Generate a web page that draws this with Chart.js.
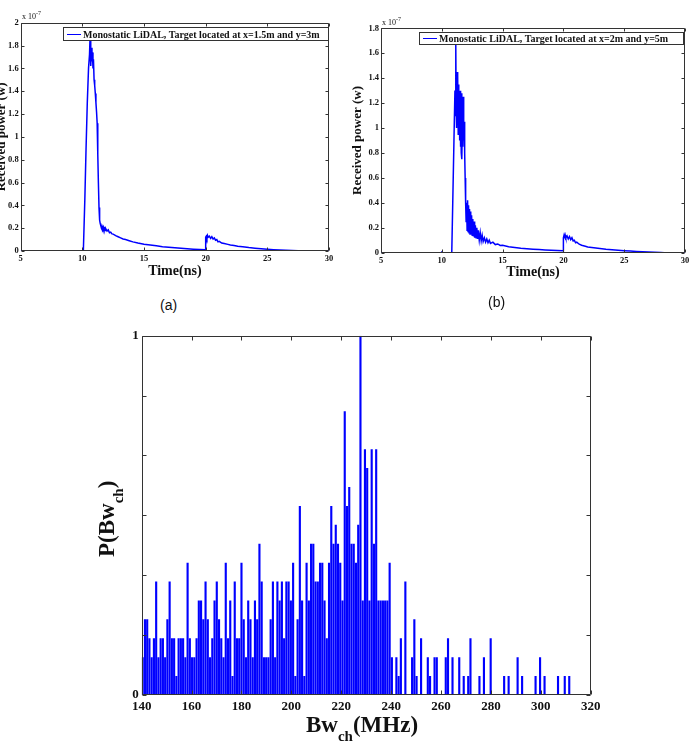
<!DOCTYPE html>
<html><head><meta charset="utf-8">
<script src="https://cdn.jsdelivr.net/npm/chart.js@4.4.1/dist/chart.umd.min.js"></script>
<style>
html,body{margin:0;padding:0;background:#fff;}
body{width:689px;height:756px;position:relative;overflow:hidden;font-family:"Liberation Serif",serif;color:#111;}
canvas{position:absolute;}
.t{position:absolute;white-space:nowrap;}
.leg{position:absolute;border:1px solid #333;background:#fff;box-sizing:border-box;}
.leg .ln{position:absolute;height:1px;background:#0000ff;}
.leg .tx{position:absolute;font:bold 10px "Liberation Serif";line-height:10px;white-space:nowrap;}
</style></head><body>
<canvas id="ca" width="360" height="280" style="left:-14px;top:0"></canvas>
<canvas id="cb" width="349" height="285" style="left:340px;top:0"></canvas>
<canvas id="ch" width="520" height="436" style="left:90px;top:320px"></canvas>

<div class="t" style="left:22px;top:12px;font:8px 'Liberation Serif'">x 10<span style="font-size:6px;position:relative;top:-4px">-7</span></div>
<div class="t" style="left:382px;top:18px;font:8px 'Liberation Serif'">x 10<span style="font-size:6px;position:relative;top:-4px">-7</span></div>

<div class="leg" style="left:63px;top:27px;width:266px;height:14px">
  <div class="ln" style="left:3px;top:6px;width:14px"></div>
  <div class="tx" style="left:19px;top:1.5px">Monostatic LiDAL, Target located at x=1.5m and y=3m</div>
</div>
<div class="leg" style="left:419px;top:32px;width:265px;height:13px">
  <div class="ln" style="left:3px;top:5px;width:14px"></div>
  <div class="tx" style="left:19px;top:1px">Monostatic LiDAL, Target located at x=2m and y=5m</div>
</div>

<div class="t" style="left:160px;top:297px;font:14px 'Liberation Sans'">(a)</div>
<div class="t" style="left:488px;top:294px;font:14px 'Liberation Sans'">(b)</div>

<div class="t" style="left:306px;top:713px;font:bold 23px 'Liberation Serif';line-height:23px">Bw<span style="font-size:15px;position:relative;top:9px">ch</span>(MHz)</div>
<div class="t" style="left:95px;top:557px;font:bold 23px 'Liberation Serif';line-height:23px;transform-origin:0 0;transform:rotate(-90deg)">P(Bw<span style="font-size:15px;position:relative;top:9px">ch</span>)</div>

<script>
// ---------- data: panel (a), received power x1e-7 W vs time (ns) ----------
const seriesA = [
 [5,0],[10.08,0],[10.2,0.45],[10.3,0.9],[10.4,1.3],[10.5,1.6],[10.58,1.72],[10.62,1.86],[10.66,1.7],
 [10.7,1.62],[10.74,1.78],[10.78,1.66],[10.82,1.74],[10.86,1.6],[10.9,1.68],[10.95,1.5],[11.0,1.45],
 [11.05,1.38],[11.1,1.3],[11.15,1.22],[11.2,1.12],[11.25,0.85],[11.3,0.6],[11.35,0.38],[11.4,0.27],
 [11.45,0.24],[11.5,0.22],[11.55,0.2],[11.6,0.215],[11.65,0.195],[11.7,0.21],[11.75,0.19],[11.8,0.2],
 [11.85,0.18],[11.9,0.195],[12.0,0.175],[12.1,0.185],[12.2,0.16],[12.3,0.165],[12.4,0.15],[12.5,0.148],
 [12.7,0.135],[12.9,0.125],[13.1,0.115],[13.3,0.105],[13.5,0.1],[13.8,0.09],[14.1,0.08],[14.5,0.07],
 [15.0,0.06],[15.5,0.052],[16.0,0.045],[16.5,0.038],[17.0,0.033],[17.5,0.028],[18.0,0.024],[18.5,0.02],
 [19.0,0.016],[19.5,0.013],[19.95,0.01],[20.0,0.12],[20.05,0.13],[20.1,0.11],[20.15,0.135],[20.2,0.12],
 [20.3,0.13],[20.4,0.11],[20.5,0.125],[20.6,0.105],[20.7,0.115],[20.8,0.095],[20.9,0.1],[21.0,0.08],
 [21.1,0.085],[21.3,0.07],[21.5,0.065],[21.8,0.058],[22.0,0.052],[22.3,0.048],[22.6,0.042],[23.0,0.037],
 [23.5,0.03],[24.0,0.025],[24.5,0.02],[25.0,0.016],[25.5,0.012],[26.0,0.009],[26.5,0.006],[27.0,0.004],
 [27.5,0.002],[28.0,0],[30,0]
];
// ---------- data: panel (b) ----------
const seriesB = [
 [5,0],[9.97,0],[9.99,0.012],[10.01,0],[10.82,0],[10.9,0.4],[11.0,0.9],[11.08,1.3],[11.12,1.1],[11.15,1.67],
 [11.18,1.2],[11.2,1.4],[11.23,1.0],[11.26,1.45],[11.29,1.05],[11.32,1.42],[11.35,0.95],[11.38,1.35],
 [11.41,1.1],[11.44,1.2],[11.47,0.9],[11.5,1.3],[11.53,0.85],[11.56,1.25],[11.6,0.8],[11.63,1.28],
 [11.66,0.75],[11.7,1.1],[11.73,0.85],[11.77,1.25],[11.8,0.9],[11.84,1.05],[11.88,0.8],[11.92,0.6],
 [11.96,0.4],[12.0,0.25],[12.04,0.4],[12.08,0.18],[12.12,0.42],[12.16,0.17],[12.2,0.38],[12.24,0.16],
 [12.28,0.35],[12.32,0.15],[12.36,0.33],[12.4,0.15],[12.45,0.3],[12.5,0.14],[12.55,0.27],[12.6,0.13],
 [12.65,0.25],[12.7,0.12],[12.76,0.22],[12.82,0.12],[12.88,0.2],[12.94,0.11],[13.0,0.18],[13.08,0.1],
 [13.16,0.16],[13.24,0.095],[13.32,0.14],[13.4,0.09],[13.5,0.12],[13.6,0.085],[13.7,0.11],[13.8,0.08],
 [13.9,0.1],[14.0,0.075],[14.2,0.085],[14.4,0.065],[14.6,0.07],[14.8,0.058],[15.0,0.06],[15.5,0.048],
 [16.0,0.042],[16.5,0.036],[17.0,0.032],[17.5,0.028],[18.0,0.025],[18.5,0.022],[19.0,0.02],[19.5,0.018],
 [19.97,0.016],[20.0,0.12],[20.05,0.14],[20.1,0.115],[20.15,0.14],[20.2,0.12],[20.3,0.135],[20.4,0.11],
 [20.5,0.13],[20.6,0.105],[20.7,0.12],[20.8,0.095],[20.9,0.1],[21.0,0.08],[21.1,0.085],[21.3,0.068],
 [21.5,0.06],[21.8,0.052],[22.0,0.046],[22.5,0.04],[23.0,0.034],[23.5,0.028],[24.0,0.024],[24.5,0.02],
 [25.0,0.016],[25.5,0.013],[26.0,0.01],[26.5,0.008],[27.0,0.006],[27.5,0.004],[28.0,0.002],[28.3,0],[30,0]
];
// ---------- data: histogram of channel bandwidth ----------
const binStart = 140.4;   // centre of first bin (MHz)
const binWidth = 0.9;     // MHz
const histCounts = [
 2,4,4,3,2,3,6,2,3,3, 2,4,6,3,3,1,3,3,3,2, 7,3,2,2,3,5,5,4,6,4, 2,3,5,6,4,3,2,7,3,5,
 1,6,3,3,7,4,2,5,4,2, 5,4,8,6,2,2,2,4,6,2, 6,5,6,3,6,6,5,7,1,4, 10,5,1,7,5,8,8,6,6,7,
 7,5,3,7,10,8,9,8,7,5, 15,10,11,8,8,7,9,19,5,13, 12,5,13,8,13,5,5,5,5,5, 7,2,0,2,1,3,0,6,0,0,
 2,4,1,0,3,0,0,2,1,0, 2,2,0,0,0,2,3,0,2,0, 0,2,0,1,0,1,3,0,0,0, 1,0,2,0,0,3,0,0,0,0,
 0,1,0,1,0,0,0,2,0,1, 0,0,0,0,0,1,0,2,0,1, 0,0,0,0,0,1,0,0,1,0, 1
];
const peakCount = 19;

// ---------- ticks ----------
const xTicksAB = [5,10,15,20,25,30];
const xLabelsAB = ['5','10','15','20','25','30'];
const yTicksA = [0,0.2,0.4,0.6,0.8,1,1.2,1.4,1.6,1.8,2];
const yLabelsA = ['0','0.2','0.4','0.6','0.8','1','1.2','1.4','1.6','1.8','2'];
const yTicksB = [0,0.2,0.4,0.6,0.8,1,1.2,1.4,1.6,1.8];
const yLabelsB = ['0','0.2','0.4','0.6','0.8','1','1.2','1.4','1.6','1.8'];
const xTicksH = [140,160,180,200,220,240,260,280,300,320];
const xLabelsH = ['140','160','180','200','220','240','260','280','300','320'];
const yTicksH = [0,1/6,2/6,3/6,4/6,5/6,1];
const yLabelsH = ['0','','','','','','1'];

// ---------- helpers ----------
const boxTicks = {
  id:'boxTicks',
  afterDatasetsDraw(chart, args, o){
    const {ctx, chartArea:a, scales} = chart;
    const len = o.len || 4;
    ctx.save();
    ctx.strokeStyle = o.color || '#333';
    ctx.lineWidth = 1;
    ctx.beginPath();
    const L = Math.round(a.left)+0.5, R = Math.round(a.right)-0.5, T = Math.round(a.top)+0.5, B = Math.round(a.bottom)-0.5;
    ctx.rect(L, T, R-L, B-T);
    scales.x.ticks.forEach(t=>{
      const px = Math.round(scales.x.getPixelForValue(t.value))+0.5;
      ctx.moveTo(px,B); ctx.lineTo(px,B-len);
      ctx.moveTo(px,T); ctx.lineTo(px,T+len);
    });
    scales.y.ticks.forEach(t=>{
      const py = Math.round(scales.y.getPixelForValue(t.value))+0.5;
      ctx.moveTo(L,py); ctx.lineTo(L+len,py);
      ctx.moveTo(R,py); ctx.lineTo(R-len,py);
    });
    ctx.stroke();
    ctx.restore();
  }
};
function xScale(min,max,vals,labels,h,font,pad,title){
  return {type:'linear',min,max,offset:false,
    grid:{display:false,drawTicks:false},border:{display:false},
    afterBuildTicks:s=>{s.ticks = vals.map(v=>({value:v}));},
    afterFit:s=>{s.height=h; s.paddingLeft=0; s.paddingRight=0;},
    ticks:{autoSkip:false,maxRotation:0,padding:pad,color:'#111',font,callback:(v,i)=>labels[i]},
    title: title || {display:false}};
}
function yScale(min,max,vals,labels,w,font,pad,title){
  return {type:'linear',min,max,
    grid:{display:false,drawTicks:false},border:{display:false},
    afterBuildTicks:s=>{s.ticks = vals.map(v=>({value:v}));},
    afterFit:s=>{s.width=w; s.paddingTop=0; s.paddingBottom=0;},
    ticks:{autoSkip:false,padding:pad,color:'#111',font,callback:(v,i)=>labels[i]},
    title: title || {display:false}};
}
const smallFont = {family:'Liberation Serif',size:8.5,weight:'bold'};
const histFont = {family:'Liberation Serif',size:13,weight:'bold'};

function lineCfg(series, yVals, yLabels, yMax, pad, yW, xH, yTitlePad, xTitlePad){
  return {
    type:'line',
    data:{datasets:[{data:series.map(p=>({x:p[0],y:p[1]})),borderColor:'#0000ff',borderWidth:1.5,
      pointRadius:0,tension:0,fill:false}]},
    options:{responsive:false,animation:false,events:[],
      layout:{padding:pad},
      plugins:{legend:{display:false},tooltip:{enabled:false},boxTicks:{len:3,color:'#333'}},
      scales:{
        x:xScale(5,30,xTicksAB,xLabelsAB,xH,smallFont,3,
          {display:true,text:'Time(ns)',color:'#111',font:{family:'Liberation Serif',size:14,weight:'bold'},padding:{top:0,bottom:xTitlePad}}),
        y:yScale(0,yMax,yVals,yLabels,yW,smallFont,2,
          {display:true,text:'Received power (w)',color:'#111',font:{family:'Liberation Serif',size:13,weight:'bold'},padding:{top:yTitlePad,bottom:0}})
      }},
    plugins:[boxTicks]
  };
}

new Chart(document.getElementById('ca'), lineCfg(seriesA, yTicksA, yLabelsA, 2,
  {left:0,right:17,top:22.7,bottom:0}, 34.7, 29, 7.7, 0));
new Chart(document.getElementById('cb'), lineCfg(seriesB, yTicksB, yLabelsB, 1.8,
  {left:0,right:4,top:28.3,bottom:0}, 41, 32.3, 10.2, 4));

const histData = histCounts.map((c,i)=>({x: binStart + i*binWidth, y: c/peakCount}));
new Chart(document.getElementById('ch'), {
  type:'bar',
  data:{datasets:[{data:histData,backgroundColor:'#0000ff',borderWidth:0,barPercentage:0.95,categoryPercentage:1}]},
  options:{responsive:false,animation:false,events:[],
    layout:{padding:{left:0,right:19.3,top:15.7,bottom:31}},
    plugins:{legend:{display:false},tooltip:{enabled:false},boxTicks:{len:4,color:'#333'}},
    scales:{
      x:xScale(140,320,xTicksH,xLabelsH,30,histFont,4),
      y:yScale(0,1,yTicksH,yLabelsH,51.7,histFont,3)
    }},
  plugins:[boxTicks]
});
</script>
</body></html>
